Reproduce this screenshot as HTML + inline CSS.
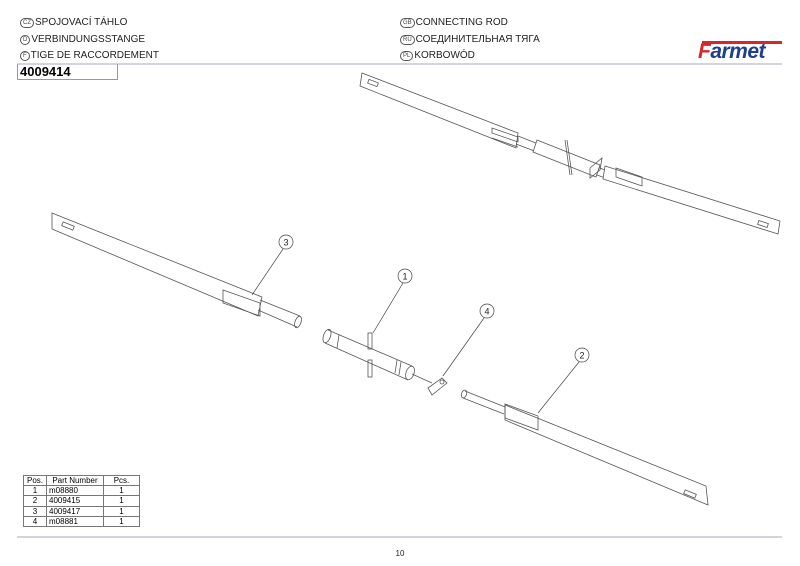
<!DOCTYPE html>
<html><head><meta charset="utf-8"><style>
html,body{margin:0;padding:0;background:#fff;}
body{width:800px;height:566px;position:relative;overflow:hidden;font-family:"Liberation Sans",sans-serif;}
.t{position:absolute;font-size:10px;color:#222;white-space:nowrap;}
.ic{display:inline-block;border:0.8px solid #555;border-radius:6px;font-size:6px;padding:0 2px;margin-right:1px;line-height:8px;vertical-align:1px;color:#444;}
table{position:absolute;left:23px;top:475px;border-collapse:collapse;font-size:8px;}
td{border:0.8px solid #777;padding:0 2px;height:9.2px;line-height:9px;}
</style></head><body>
<div class="t" style="left:20px;top:17px"><span class="ic">CZ</span>SPOJOVACÍ TÁHLO</div>
<div class="t" style="left:20px;top:34px"><span class="ic">D</span>VERBINDUNGSSTANGE</div>
<div class="t" style="left:20px;top:50px"><span class="ic">F</span>TIGE DE RACCORDEMENT</div>
<div class="t" style="left:400px;top:17px"><span class="ic">GB</span>CONNECTING ROD</div>
<div class="t" style="left:400px;top:34px"><span class="ic">RU</span>СОЕДИНИТЕЛЬНАЯ ТЯГА</div>
<div class="t" style="left:400px;top:50px"><span class="ic">PL</span>KORBOWÓD</div>
<div style="position:absolute;left:17px;top:64px;width:99px;height:15px;border:1px solid #999;border-top:none;"></div>
<div class="t" style="left:20px;top:64px;font-size:13px;font-weight:bold;color:#000">4009414</div>
<div style="position:absolute;left:702px;top:41px;width:80px;height:3px;background:#d8262b"></div>
<div class="t" style="left:698px;top:40px;font-size:21px;font-weight:bold;font-style:italic;color:#1d3f8f;letter-spacing:-0.5px"><span style="color:#d8262b">F</span>armet</div>
<svg width="800" height="566" style="position:absolute;left:0;top:0" fill="none" stroke="#555" stroke-width="0.8">
<line x1="17" y1="64" x2="782" y2="64" stroke="#aab" stroke-width="1"/>
<line x1="17" y1="537" x2="782" y2="537" stroke="#aab" stroke-width="1"/>
<path d="M362,73 L518,133 L516,148 L360,86 Z" fill="#fff"/>
<rect x="368" y="81" width="10" height="4" transform="rotate(21 373 83)"/>
<path d="M492,128 L518,137 L518,142 L492,133 Z M492,138 L518,147"/>
<path d="M518,136 L610,172 M516,144 L605,178"/>
<path d="M537,140 L600,165 L596,177 L533,152 Z" fill="#fff"/>
<line x1="565" y1="140" x2="570" y2="175"/><line x1="567" y1="140" x2="572" y2="175"/>
<path d="M590,168 L602,158 L600,170 L590,178 Z"/>
<path d="M605,166 L780,221 L778,234 L603,179 Z" fill="#fff"/>
<rect x="758" y="222" width="10" height="4" transform="rotate(18 763 224)"/>
<path d="M616,168 L642,177 L642,186 L616,177 Z"/>
<path d="M52,213 L262,297 L258,316 L52,229 Z" fill="#fff"/>
<rect x="62" y="224" width="12" height="4" transform="rotate(22 68 226)"/>
<path d="M223,290 L260,303 L260,316 L223,303 Z"/>
<path d="M260,300 L300,316 M258,310 L297,327"/>
<ellipse cx="298" cy="322" rx="3" ry="6" transform="rotate(20 298 322)"/>
<path d="M328,330 L412,366 M325,343 L408,380"/>
<ellipse cx="327" cy="336" rx="3.5" ry="7" transform="rotate(20 327 336)"/>
<ellipse cx="410" cy="373" rx="4" ry="7" transform="rotate(20 410 373)"/>
<path d="M339,335 L337,348 M397,360 L395,373 M401,362 L399,375"/>
<rect x="368" y="333" width="4" height="16"/>
<rect x="368" y="360" width="4" height="17"/>
<line x1="412" y1="374" x2="432" y2="383"/>
<path d="M428,388 L442,378 L447,383 L432,395 Z" fill="#fff"/>
<circle cx="442" cy="382" r="2"/>
<path d="M465,391 L505,407 M463,398 L504,414"/>
<ellipse cx="464" cy="394" rx="2.5" ry="4" transform="rotate(20 464 394)"/>
<path d="M505,405 L706,486 L708,505 L505,420 Z" fill="#fff"/>
<path d="M505,404 L538,416 L538,430 L505,418 Z"/>
<rect x="684" y="492" width="12" height="4" transform="rotate(22 690 494)"/>
<g stroke="#444" stroke-width="0.7">
<circle cx="286" cy="242" r="7" fill="#fff"/><line x1="283" y1="249" x2="252" y2="295"/>
<circle cx="405" cy="276" r="7" fill="#fff"/><line x1="403" y1="283" x2="373" y2="333"/>
<circle cx="487" cy="311" r="7" fill="#fff"/><line x1="484" y1="318" x2="443" y2="376"/>
<circle cx="582" cy="355" r="7" fill="#fff"/><line x1="579" y1="362" x2="538" y2="413"/>
</g>
<g fill="#222" stroke="none" font-family="Liberation Sans" font-size="9" text-anchor="middle">
<text x="286" y="245.5">3</text><text x="405" y="279.5">1</text><text x="487" y="314.5">4</text><text x="582" y="358.5">2</text>
<text x="400" y="556" font-size="8">10</text>
</g>
</svg>
<table>
<tr><td style="width:18px;text-align:center">Pos.</td><td style="width:52px;text-align:center">Part Number</td><td style="width:31px;text-align:center">Pcs.</td></tr>
<tr><td style="text-align:center">1</td><td>m08880</td><td style="text-align:center">1</td></tr>
<tr><td style="text-align:center">2</td><td>4009415</td><td style="text-align:center">1</td></tr>
<tr><td style="text-align:center">3</td><td>4009417</td><td style="text-align:center">1</td></tr>
<tr><td style="text-align:center">4</td><td>m08881</td><td style="text-align:center">1</td></tr>
</table>
</body></html>
